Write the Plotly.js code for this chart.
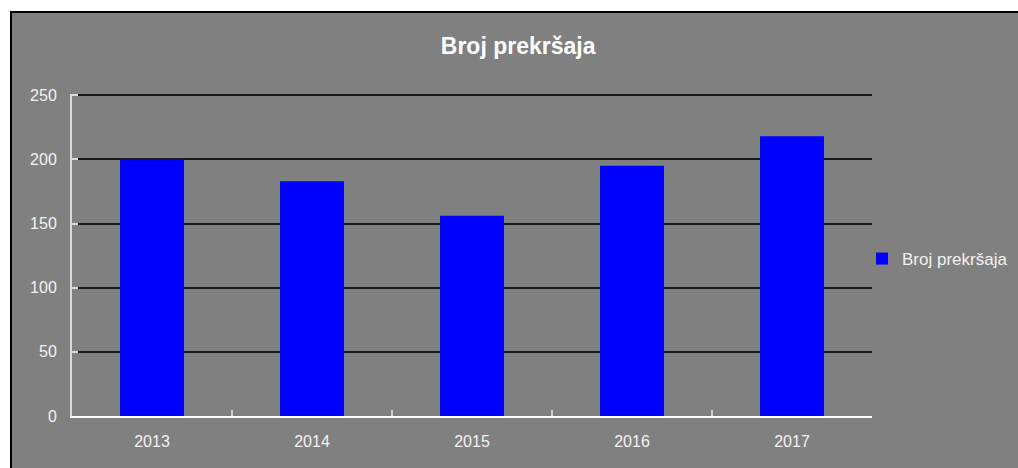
<!DOCTYPE html>
<html>
<head>
<meta charset="utf-8">
<script src="https://cdn.plot.ly/plotly-3.0.1.min.js"></script>
<style>
  html, body { margin: 0; padding: 0; background: #ffffff; overflow: hidden; }
  #chart { width: 1018px; height: 468px; }
</style>
</head>
<body>
<div id="chart"></div>
<script>
const categories = ["2013", "2014", "2015", "2016", "2017"];
const seriesName = "Broj prekršaja";
const values = [200, 183, 156, 195, 218];
const yTickValues = [0, 50, 100, 150, 200, 250];

const W = 1018, H = 468;
const M = { l: 72, r: 146, t: 94, b: 52 };
const plotW = W - M.l - M.r, plotH = H - M.t - M.b;

const trace = {
  type: "bar",
  x: categories,
  y: values,
  name: seriesName,
  marker: { color: "#0000ff", line: { width: 0 } },
  showlegend: true,
  hoverinfo: "x+y"
};

const layout = {
  width: W,
  height: H,
  paper_bgcolor: "#ffffff",
  plot_bgcolor: "rgba(0,0,0,0)",
  margin: { l: M.l, r: M.r, t: M.t, b: M.b, autoexpand: false },
  font: { family: "Liberation Sans, Arial, sans-serif", color: "#f2f2f2", size: 16 },
  title: {
    text: "<b>Broj prekršaja</b>",
    font: { family: "Liberation Sans, Arial, sans-serif", size: 23, color: "#ffffff" },
    xref: "container", x: 0.509, xanchor: "center",
    yref: "container", y: 1 - 46 / 468, yanchor: "middle"
  },
  bargap: 0.6,
  shapes: [{
    type: "rect", layer: "below", xref: "paper", yref: "paper",
    x0: (11 - M.l) / plotW, x1: (W + 20 - M.l) / plotW,
    y0: (M.b + plotH - (H + 20)) / plotH, y1: (H - 12 - M.b) / plotH,
    fillcolor: "#808080", line: { color: "#000000", width: 2 }
  }],
  xaxis: {
    type: "category",
    showline: true, linecolor: "#ffffff", linewidth: 2,
    ticks: "inside", tickson: "boundaries", ticklen: 6, tickcolor: "#d0d0d0", tickwidth: 2,
    showgrid: false,
    tickfont: { size: 16, color: "#f2f2f2" },
    ticklabelstandoff: 10,
    fixedrange: true
  },
  yaxis: {
    range: [0, 251],
    tickvals: yTickValues,
    showline: true, linecolor: "#d8d8d8", linewidth: 2,
    ticks: "inside", ticklen: 6, tickcolor: "#d8d8d8", tickwidth: 2,
    showgrid: true, gridcolor: "#1a1a1a", gridwidth: 2,
    zeroline: false,
    tickfont: { size: 16, color: "#f2f2f2" },
    ticklabelstandoff: 10,
    fixedrange: true
  },
  showlegend: true,
  legend: {
    xref: "container", yref: "container",
    x: 862 / 1018, xanchor: "left",
    y: 1 - 259 / 468, yanchor: "middle",
    bgcolor: "rgba(0,0,0,0)",
    font: { size: 17, color: "#f2f2f2" }
  }
};

Plotly.newPlot("chart", [trace], layout, { displayModeBar: false, staticPlot: true });
</script>
</body>
</html>
